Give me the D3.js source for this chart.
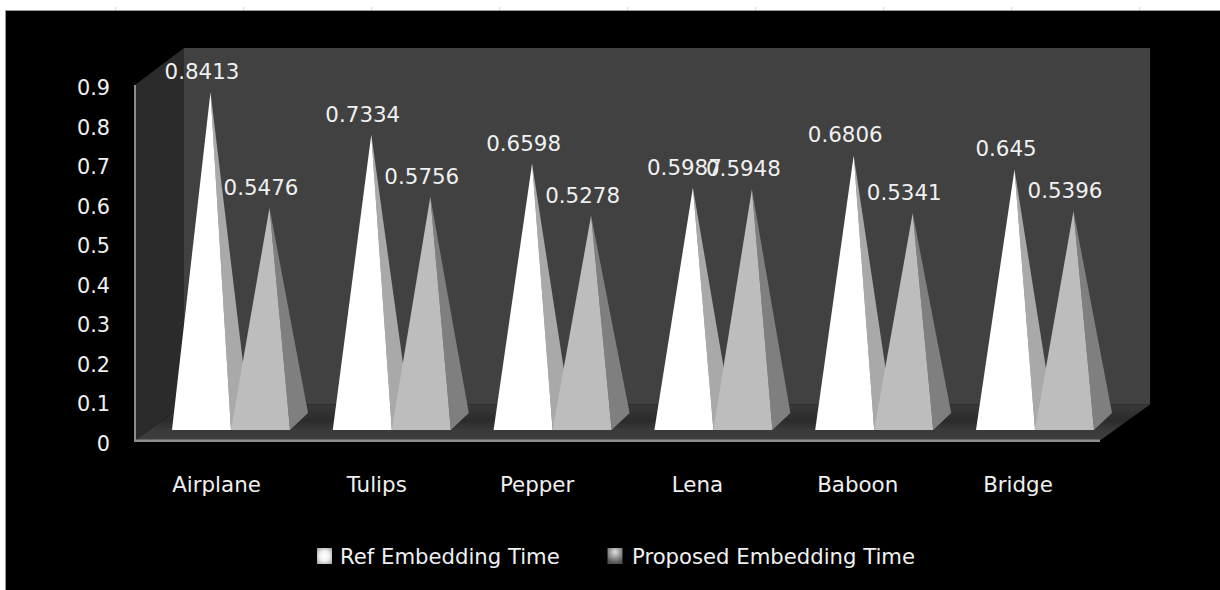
<!DOCTYPE html>
<html><head><meta charset="utf-8">
<script src="https://cdn.jsdelivr.net/npm/d3@7"></script>
<style>html,body{margin:0;padding:0;background:#fff}svg{display:block}text{font-family:"DejaVu Sans",sans-serif;fill:#f0f0f0}</style>
</head><body><svg id="c" width="1220" height="590"></svg>
<script>
const categories=["Airplane","Tulips","Pepper","Lena","Baboon","Bridge"];
const refTime=[0.8413,0.7334,0.6598,0.5987,0.6806,0.645];
const proposedTime=[0.5476,0.5756,0.5278,0.5948,0.5341,0.5396];
const valueLabels=[["0.8413","0.5476"],["0.7334","0.5756"],["0.6598","0.5278"],["0.5987","0.5948"],["0.6806","0.5341"],["0.645","0.5396"]];
const yTicks=[0,0.1,0.2,0.3,0.4,0.5,0.6,0.7,0.8,0.9];
const seriesNames=["Ref Embedding Time","Proposed Embedding Time"];
const svg=d3.select("#c");
const W=1220,H=590;
svg.append("rect").attr("width",W).attr("height",H).attr("fill","#fff");
svg.append("rect").attr("x",5).attr("y",10).attr("width",W-5).attr("height",H-10).attr("fill","#999");
svg.append("rect").attr("x",6).attr("y",11).attr("width",W-6).attr("height",H-11).attr("fill","#000");
d3.range(115,1200,128).forEach(x=>svg.append("rect").attr("x",x).attr("y",7).attr("width",1).attr("height",3).attr("fill","#d5d9e8"));
const dx=49,dy=-36;
const x0=135,x1=1100,floorY=440.5;
const y=d3.scaleLinear().domain([0,0.9]).range([423.5,69]);
const topWall=85;
const poly=(pts,fill)=>svg.append("polygon").attr("points",pts.map(p=>p.join(",")).join(" ")).attr("fill",fill);
poly([[x0+dx,topWall+dy-1],[x1+dx+1,topWall+dy-1],[x1+dx+1,floorY+dy],[x0+dx,floorY+dy]],"#414141");
poly([[x0,topWall],[x0+dx,topWall+dy-1],[x0+dx,floorY+dy],[x0,floorY]],"#2b2b2b");
const defs=svg.append("defs");
const fg=defs.append("linearGradient").attr("id","floor").attr("x1",0).attr("y1",0).attr("x2",0).attr("y2",1);
[[0,"#3a3a3a"],[0.45,"#2b2b2b"],[0.7,"#3a3a3a"],[1,"#3f3f3f"]].forEach(s=>fg.append("stop").attr("offset",s[0]).attr("stop-color",s[1]));
poly([[x0,floorY],[x0+dx,floorY+dy],[x1+dx+1,floorY+dy],[x1,floorY]],"url(#floor)");
svg.append("rect").attr("x",x0-1).attr("y",topWall).attr("width",2).attr("height",floorY-topWall+1).attr("fill","#8c8c8c");
svg.append("rect").attr("x",x0-1).attr("y",floorY-1).attr("width",x1-x0+1).attr("height",2.5).attr("fill","#8c8c8c");
const xBand=d3.scaleBand().domain(categories).range([172-3.4,172+160.8*6-3.4]);
const xLabel=d3.scalePoint().domain(categories).range([216.5,1018]);
const faceW=59,sideX=18,sideY=17,baseY=430;
const drawCone=(left,val,front,side)=>{
  const ax=left+faceW/2+sideX/2, ay=y(val);
  poly([[ax,ay],[left+faceW,baseY],[left+faceW+sideX,baseY-sideY]],side);
  poly([[ax,ay],[left,baseY],[left+faceW,baseY]],front);
};
categories.forEach((c,i)=>{
  const l=xBand(c)+3.4;
  drawCone(l,refTime[i],"#ffffff","#a9a9a9");
  drawCone(l+faceW,proposedTime[i],"#bdbdbd","#7f7f7f");
});
categories.forEach((c,i)=>{
  const l=xBand(c)+3.4;
  [refTime[i],proposedTime[i]].forEach((v,k)=>{
    const ax=l+k*faceW+faceW/2+sideX/2;
    svg.append("text").attr("x",ax-8.5).attr("y",y(v)-13).attr("text-anchor","middle").attr("font-size",21.4).text(valueLabels[i][k]);
  });
  svg.append("text").attr("x",xLabel(c)).attr("y",492).attr("text-anchor","middle").attr("font-size",21.4).text(c);
});
const yLab=d3.scaleLinear().domain([0,0.9]).range([443,87]);
yTicks.forEach(t=>svg.append("text").attr("x",110).attr("y",yLab(t)+8).attr("text-anchor","end").attr("font-size",20.8).text(d3.format("")(t)));
[[["#ffffff",0],["#f0f0f0",0.45],["#999999",1]],[["#e0e0e0",0],["#999999",0.5],["#555555",1]]].forEach((stops,i)=>{
  const g=defs.append("radialGradient").attr("id","lg"+i).attr("cx",0.5).attr("cy",i?0.25:0.5).attr("r",0.7);
  stops.forEach(s=>g.append("stop").attr("offset",s[1]).attr("stop-color",s[0]));
});
[[317,340],[607.5,632]].forEach((p,i)=>{
  svg.append("rect").attr("x",p[0]).attr("y",548).attr("width",15).attr("height",16).attr("fill",`url(#lg${i})`);
  svg.append("text").attr("x",p[1]).attr("y",564).attr("font-size",21.2).text(seriesNames[i]);
});
</script></body></html>
